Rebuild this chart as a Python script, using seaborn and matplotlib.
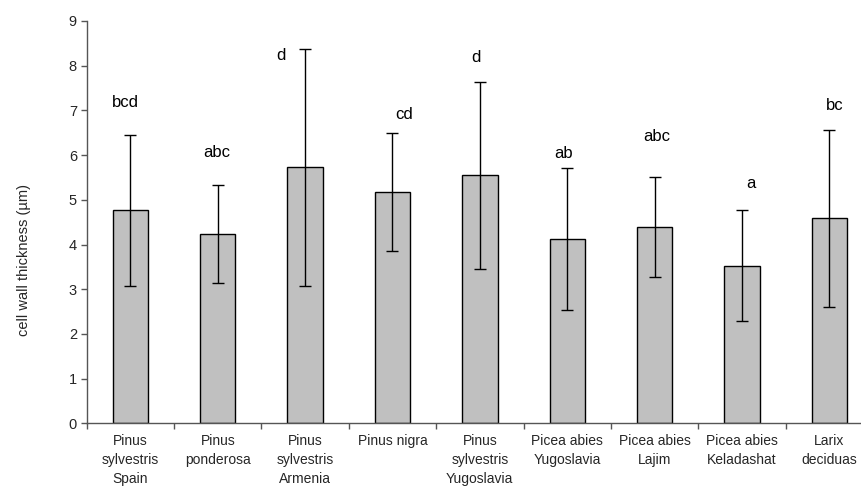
import matplotlib
matplotlib.use("Agg")
import matplotlib.pyplot as plt
import seaborn as sns
import pandas as pd
import numpy as np
from matplotlib.ticker import FixedLocator

categories = [
    "Pinus\nsylvestris\nSpain",
    "Pinus\nponderosa",
    "Pinus\nsylvestris\nArmenia",
    "Pinus nigra",
    "Pinus\nsylvestris\nYugoslavia",
    "Picea abies\nYugoslavia",
    "Picea abies\nLajim",
    "Picea abies\nKeladashat",
    "Larix\ndeciduas",
]
means = [4.77, 4.24, 5.73, 5.18, 5.55, 4.13, 4.40, 3.53, 4.59]
sds = [1.69, 1.10, 2.65, 1.32, 2.09, 1.59, 1.12, 1.24, 1.98]
letters = ["bcd", "abc", "d", "cd", "d", "ab", "abc", "a", "bc"]
letter_y = [7.07, 5.96, 8.13, 6.81, 8.08, 5.94, 6.32, 5.27, 7.02]
letter_dx = [-0.06, -0.01, -0.28, 0.13, -0.04, -0.04, 0.02, 0.10, 0.06]
yticks = list(range(0, 10))

sns.set_style("white")
plt.rcParams["font.family"] = ["Liberation Sans", "DejaVu Sans"]

df = pd.DataFrame({"species": categories, "thickness": means})

fig = plt.figure(figsize=(8.61, 4.87), dpi=100)
ax = fig.add_axes([86.7 / 861, 63.7 / 487, (873 - 86.7) / 861, (466 - 63.7) / 487])

sns.barplot(data=df, x="species", y="thickness", color="#C0C0C0",
            saturation=1, width=0.405, edgecolor="black", linewidth=1.0,
            errorbar=None, ax=ax)

xpos = np.arange(len(categories))
ax.errorbar(xpos, means, yerr=sds, fmt="none", ecolor="black",
            elinewidth=1.0, capsize=4, capthick=1.0, zorder=5)

for i, (lab, yv, dx) in enumerate(zip(letters, letter_y, letter_dx)):
    ax.text(i + dx, yv, lab, ha="center", va="baseline", fontsize=12,
            color="black")

ax.set_xlim(-0.5, len(categories) - 0.5)
ax.set_ylim(0, 9)
ax.set_yticks(yticks)
ax.set_yticklabels([str(t) for t in yticks], fontsize=10.5)
ax.set_xticks(xpos)
ax.set_xticklabels(categories, fontsize=10, linespacing=1.45, va="top")
ax.xaxis.set_minor_locator(FixedLocator(np.arange(-0.5, len(categories), 1.0)))
ax.tick_params(axis="x", which="major", length=0, pad=8)
ax.tick_params(axis="x", which="minor", length=4, width=1, color="#555555",
               bottom=True, direction="out")
ax.tick_params(axis="y", which="major", length=4, width=1, color="#555555",
               left=True, direction="out", pad=3)
ax.set_xlabel("")
ax.set_ylabel("cell wall thickness (µm)", fontsize=10.5)
ax.yaxis.set_label_coords((24 - 86.7) / 786.3, (423.3 - 260) / 402.3)
ax.yaxis.label.set_va("center")

for s in ["top", "right"]:
    ax.spines[s].set_visible(False)
for s in ["left", "bottom"]:
    ax.spines[s].set_color("#555555")
    ax.spines[s].set_linewidth(1.0)

fig.savefig("out.png", dpi=100)
